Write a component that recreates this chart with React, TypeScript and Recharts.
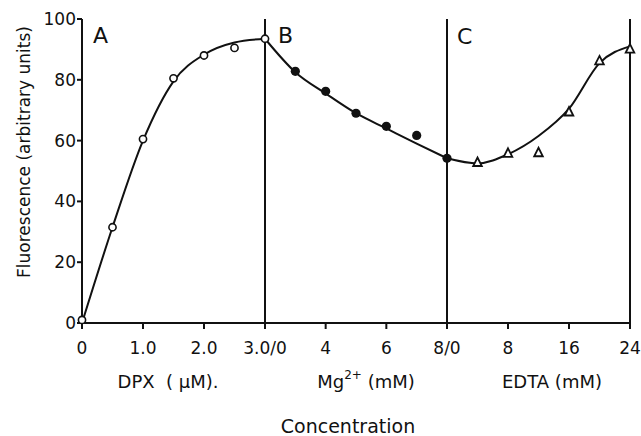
import { ComposedChart, Line, Scatter, XAxis, YAxis, ReferenceLine } from "recharts";

// panel A: DPX titration (open circles)
const dpxConc = [0, 0.5, 1.0, 1.5, 2.0, 2.5, 3.0];
const dpxFluor = [1, 31.5, 60.5, 80.5, 88, 90.5, 93.5];
const dpxFitConc = [0, 0.5, 1.0, 1.5, 2.0, 2.5, 3.0];
const dpxFit = [0, 31.5, 60, 79.5, 88.3, 92.3, 93.5];
const dpxTicks = [0, 1, 2, 3];
const dpxTickLabels = ["0", "1.0", "2.0", "3.0/0"];

// panel B: Mg2+ (filled circles)
const mgConc = [3, 4, 5, 6, 7, 8];
const mgFluor = [82.8, 76.2, 69, 64.7, 61.7, 54.2];
const mgFitConc = [2, 3, 4, 5, 6, 7, 8];
const mgFit = [93.5, 82.5, 75.5, 69, 64, 59, 54.2];
const mgTicks = [4, 6, 8];
const mgTickLabels = ["4", "6", "8/0"];

// panel C: EDTA (open triangles)
const edtaConc = [4, 8, 12, 16, 20, 24];
const edtaFluor = [52.8, 55.8, 56, 69.4, 86.2, 90.1];
const edtaFitConc = [0, 4, 8, 12, 16, 20, 24];
const edtaFit = [54.2, 52.5, 55.5, 61.5, 70.5, 85.5, 91];
const edtaTicks = [8, 16, 24];
const edtaTickLabels = ["8", "16", "24"];

const yTicks = [0, 20, 40, 60, 80, 100];

const FONT = "DejaVu Sans";
const INK = "#111";
const H = 436;

const pts = (xs: number[], ys: number[]) => xs.map((x, i) => ({ x, y: ys[i] }));

const OpenCircle = (p: any) => (
  <circle cx={p.cx} cy={p.cy} r={3.6} fill="#fff" stroke={INK} strokeWidth={1.6} />
);
const FilledCircle = (p: any) => <circle cx={p.cx} cy={p.cy} r={4.6} fill={INK} />;
const OpenTriangle = (p: any) => (
  <path
    d={`M${p.cx},${p.cy - 5} L${p.cx + 4.3},${p.cy + 3.5} L${p.cx - 4.3},${p.cy + 3.5} Z`}
    fill="#fff"
    stroke={INK}
    strokeWidth={1.8}
  />
);

const tickStyle = { fill: INK, fontSize: 17, fontFamily: FONT };
const axisLine = { stroke: INK, strokeWidth: 2 };

interface PanelProps {
  left: number;
  width: number;
  margin: { top: number; right: number; bottom: number; left: number };
  domain: [number, number];
  ticks: number[];
  tickLabels: string[];
  points: { x: number; y: number }[];
  fit: { x: number; y: number }[];
  shape: (p: any) => JSX.Element;
  edge: number;
  showY?: boolean;
  z?: number;
}

function Panel({ left, width, margin, domain, ticks, tickLabels, points, fit, shape, edge, showY, z }: PanelProps) {
  return (
    <div style={{ position: "absolute", left, top: 0, zIndex: z ?? 1 }}>
      <ComposedChart width={width} height={H} margin={margin}>
        <XAxis
          type="number"
          dataKey="x"
          domain={domain}
          ticks={ticks}
          interval={0}
          tickFormatter={(v: number) => tickLabels[ticks.indexOf(v)] ?? ""}
          tick={tickStyle}
          tickSize={6}
          tickMargin={13}
          tickLine={axisLine}
          axisLine={axisLine}
          height={113}
        />
        {showY ? (
          <YAxis
            type="number"
            domain={[0, 100]}
            ticks={yTicks}
            interval={0}
            width={82}
            tick={tickStyle}
            tickSize={5}
            tickMargin={1}
            tickLine={axisLine}
            axisLine={axisLine}
          />
        ) : (
          <YAxis type="number" domain={[0, 100]} hide />
        )}
        <ReferenceLine x={edge} stroke={INK} strokeWidth={2} />
        <Line
          type="monotone"
          data={fit}
          dataKey="y"
          stroke={INK}
          strokeWidth={2}
          dot={false}
          isAnimationActive={false}
        />
        <Scatter data={points} dataKey="y" shape={shape} isAnimationActive={false} />
      </ComposedChart>
    </div>
  );
}

export default function App() {
  const txt = { fontFamily: FONT, fill: INK };
  return (
    <div style={{ position: "absolute", left: 0, top: 0, width: 641, height: H, background: "#fff" }}>
      <Panel
        left={0}
        width={300}
        margin={{ top: 19, right: 35, bottom: 0, left: 0 }}
        domain={[0, 3]}
        ticks={dpxTicks}
        tickLabels={dpxTickLabels}
        points={pts(dpxConc, dpxFluor)}
        fit={pts(dpxFitConc, dpxFit)}
        shape={OpenCircle}
        edge={3}
        showY
        z={3}
      />
      <Panel
        left={255}
        width={222}
        margin={{ top: 19, right: 30, bottom: 0, left: 10 }}
        domain={[2, 8]}
        ticks={mgTicks}
        tickLabels={mgTickLabels}
        points={pts(mgConc, mgFluor)}
        fit={pts(mgFitConc, mgFit)}
        shape={FilledCircle}
        edge={8}
        z={2}
      />
      <Panel
        left={437}
        width={204}
        margin={{ top: 19, right: 11, bottom: 0, left: 10 }}
        domain={[0, 24]}
        ticks={edtaTicks}
        tickLabels={edtaTickLabels}
        points={pts(edtaConc, edtaFluor)}
        fit={pts(edtaFitConc, edtaFit)}
        shape={OpenTriangle}
        edge={24}
        z={1}
      />
      <svg
        width={641}
        height={H}
        style={{ position: "absolute", left: 0, top: 0, zIndex: 5, pointerEvents: "none" }}
      >
        <text {...txt} x={93} y={43} fontSize={22}>A</text>
        <text {...txt} x={278} y={43} fontSize={22}>B</text>
        <text {...txt} x={457} y={44} fontSize={22}>C</text>
        <text {...txt} x={168} y={388} fontSize={18} textAnchor="middle">
          {"DPX\u00a0\u00a0(\u00a0µM)."}
        </text>
        <text {...txt} x={366} y={388} fontSize={18} textAnchor="middle">
          <tspan>Mg</tspan>
          <tspan dy={-9} fontSize={12}>2+</tspan>
          <tspan dy={9}>{"\u00a0(mM)"}</tspan>
        </text>
        <text {...txt} x={552} y={388} fontSize={18} textAnchor="middle">EDTA (mM)</text>
        <text {...txt} x={348} y={433} fontSize={19} textAnchor="middle">Concentration</text>
        <text {...txt} x={30} y={152} fontSize={17} textAnchor="middle" transform="rotate(-90, 30, 152)">
          Fluorescence (arbitrary units)
        </text>
      </svg>
    </div>
  );
}
